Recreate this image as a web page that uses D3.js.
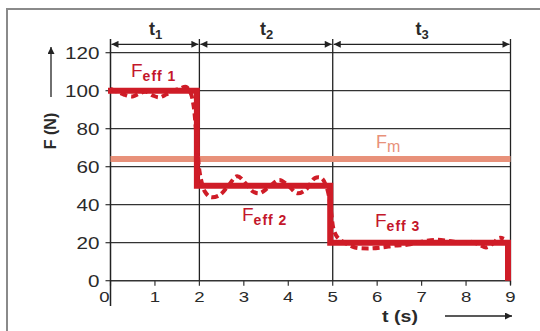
<!DOCTYPE html>
<html><head><meta charset="utf-8">
<script src="https://cdn.jsdelivr.net/npm/d3@7"></script>
<style>body{margin:0;background:#fff}svg{display:block}text{font-family:"Liberation Sans",Arial,sans-serif}</style>
</head><body>
<svg id="c" width="540" height="331"></svg>
<script>
// ---- data ----
const timeTicks = [0,1,2,3,4,5,6,7,8,9];
const forceTicks = [0,20,40,60,80,100,120];
const phaseBounds = [0,2,5,9];
const phaseLabels = ["1","2","3"];
const stepTime = [0,2,2,5,5,9,9];
const stepForce = [100,100,50,50,20,20,0];
const measTime = [0,0.15,0.3,0.5,0.65,0.8,0.95,1.1,1.25,1.4,1.55,1.7,1.8,1.87,1.92,1.96,2.0,2.05,2.12,2.25,2.45,2.65,2.85,3.05,3.2,3.35,3.55,3.8,4.0,4.2,4.4,4.6,4.75,4.85,4.92,4.97,5.02,5.1,5.2,5.35,5.5,5.8,6.1,6.4,6.7,7.0,7.3,7.6,7.9,8.1,8.3,8.45,8.6,8.75,8.85];
const measForce = [101,99.5,98,97,98.5,99.5,97.5,96.5,98,100,101,102,99,92,80,68,58,52,47,44,45,50,55,51,47,46,49,53,50,46,48,54,54,50,44,35,27,23,21,19,17.5,17,17.5,18.5,19,20.5,21.5,21,20,20.5,19,17.5,19.5,22.5,22];
const meanForce = 64;

// ---- layout ----
const svg = d3.select("#c");
const x = d3.scaleLinear().domain([0,9]).range([110.5,510.5]);
const y = d3.scaleLinear().domain([0,120]).range([280.7,52.7]);
const red = "#cf1c27", textRed = "#c4172b", salmon = "#e8917a", ink = "#222";

const defs = svg.append("defs");
defs.append("marker").attr("id","ah").attr("viewBox","0 0 10 10").attr("refX",10).attr("refY",5)
  .attr("markerWidth",10).attr("markerHeight",7).attr("markerUnits","userSpaceOnUse").attr("orient","auto-start-reverse")
  .append("path").attr("d","M0,0L10,5L0,10Z").attr("fill",ink);

// frame
svg.append("rect").attr("x",7).attr("y",9).attr("width",560).attr("height",400)
  .attr("fill","none").attr("stroke","#8a8a8a").attr("stroke-width",2);

// horizontal gridlines
svg.append("g").selectAll("line").data(forceTicks.filter(d=>d>0)).join("line")
  .attr("x1",x(0)).attr("x2",x(9)).attr("y1",d=>y(d)).attr("y2",d=>y(d))
  .attr("stroke","#333").attr("stroke-width",1.2);

// y ticks and labels
const yAxis = svg.append("g");
yAxis.selectAll("line").data(forceTicks).join("line")
  .attr("x1",x(0)-5).attr("x2",x(0)).attr("y1",d=>y(d)).attr("y2",d=>y(d)).attr("stroke","#333").attr("stroke-width",1.2);
yAxis.selectAll("text").data(forceTicks).join("text")
  .attr("transform",d=>`translate(${x(0)-11},${y(d)+6}) scale(1.25,1)`)
  .attr("text-anchor","end").attr("font-size",16.5).attr("fill","#2a2a2a").text(d=>d);

// x axis
svg.append("line").attr("x1",x(0)).attr("x2",x(9)).attr("y1",y(0)).attr("y2",y(0)).attr("stroke","#333").attr("stroke-width",1.5);
const xAxis = svg.append("g");
xAxis.selectAll("line").data(timeTicks).join("line")
  .attr("x1",d=>x(d)).attr("x2",d=>x(d)).attr("y1",y(0)).attr("y2",y(0)+5).attr("stroke","#333").attr("stroke-width",1.2);
xAxis.selectAll("text").data(timeTicks).join("text")
  .attr("transform",d=>`translate(${x(d)-(d===0?6:0)},302) scale(1.2,1)`)
  .attr("text-anchor","middle").attr("font-size",15.5).attr("fill","#2a2a2a").text(d=>d);

// vertical lines (axis + phase boundaries)
svg.append("line").attr("x1",x(0)).attr("x2",x(0)).attr("y1",39).attr("y2",306).attr("stroke","#222").attr("stroke-width",1.5);
svg.append("g").selectAll("line").data(phaseBounds.slice(1)).join("line")
  .attr("x1",d=>x(d)).attr("x2",d=>x(d)).attr("y1",39).attr("y2",d=>d===9?y(0)+4:y(0))
  .attr("stroke","#222").attr("stroke-width",1.3);

// phase dimension arrows
const phases = phaseLabels.map((l,i)=>({l,a:phaseBounds[i],b:phaseBounds[i+1]}));
svg.append("g").selectAll("line").data(phases).join("line")
  .attr("x1",d=>x(d.a)+1).attr("x2",d=>x(d.b)-1).attr("y1",44.3).attr("y2",44.3)
  .attr("stroke",ink).attr("stroke-width",1.2)
  .attr("marker-start","url(#ah)").attr("marker-end","url(#ah)");
const pl = svg.append("g").selectAll("text").data(phases).join("text")
  .attr("x",d=>x((d.a+d.b)/2)-6).attr("y",35).attr("font-size",18).attr("font-weight","bold").attr("fill","#2a2a2a");
pl.append("tspan").text("t");
pl.append("tspan").attr("dy",4).attr("font-size",13).text(d=>d.l);

// mean force line
svg.append("line").attr("x1",x(0)).attr("x2",x(9)).attr("y1",y(meanForce)).attr("y2",y(meanForce))
  .attr("stroke",salmon).attr("stroke-width",6);

// effective force step line (drawn just inside each phase boundary)
const line = d3.line().x(d=>x(d[0])).y(d=>y(d[1]));
svg.append("path").datum(d3.zip(stepTime,stepForce)).attr("d",line)
  .attr("transform","translate(-2.5,0)")
  .attr("fill","none").attr("stroke",red).attr("stroke-width",6).attr("stroke-linejoin","miter");

// measured (dashed) force
const curve = d3.line().x(d=>x(d[0])).y(d=>y(d[1])).curve(d3.curveCatmullRom);
svg.append("path").datum(d3.zip(measTime,measForce)).attr("d",curve)
  .attr("fill","none").attr("stroke",red).attr("stroke-width",4).attr("stroke-dasharray","7,4");

// labels
function subLabel(px,py,sub,color,size,subSize,bold){
  const t = svg.append("text").attr("x",px).attr("y",py).attr("fill",color).attr("font-size",size);
  t.append("tspan").text("F");
  t.append("tspan").attr("dy",4).attr("font-size",subSize).attr("font-weight",bold?"bold":"normal")
    .attr("letter-spacing",1).text(sub);
}
subLabel(131,77,"eff 1",textRed,19,14,true);
subLabel(242,221,"eff 2",textRed,19,14,true);
subLabel(375,227,"eff 3",textRed,19,14,true);
subLabel(376,148,"m",salmon,18,16,false);

// axis titles
svg.append("text").attr("transform","translate(400,322) scale(1.15,1)").attr("text-anchor","middle")
  .attr("font-size",17).attr("font-weight","bold").attr("fill","#2a2a2a").text("t (s)");
svg.append("line").attr("x1",445).attr("x2",512).attr("y1",316).attr("y2",316)
  .attr("stroke",ink).attr("stroke-width",1.3).attr("marker-end","url(#ah)");
svg.append("text").attr("transform","translate(56,131) rotate(-90)").attr("text-anchor","middle")
  .attr("font-size",16).attr("font-weight","bold").attr("fill","#2a2a2a").text("F (N)");
svg.append("line").attr("x1",51).attr("x2",51).attr("y1",97).attr("y2",47)
  .attr("stroke",ink).attr("stroke-width",1.3).attr("marker-end","url(#ah)");
</script>
</body></html>
